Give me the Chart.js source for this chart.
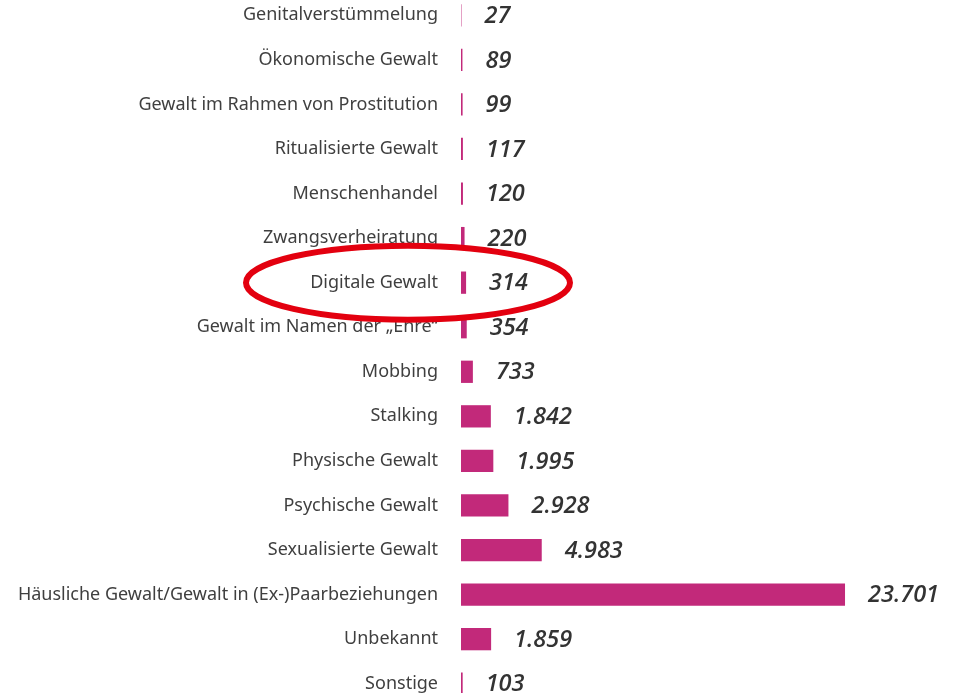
<!DOCTYPE html>
<html lang="de">
<head>
<meta charset="utf-8">
<title>Gewaltformen</title>
<script src="https://cdn.jsdelivr.net/npm/chart.js@4"></script>
<style>
  html, body { margin: 0; padding: 0; background: #fff; overflow: hidden; }
  #chart { position: absolute; left: 0; top: -7px; }
</style>
</head>
<body>
<canvas id="chart" width="956" height="713"></canvas>
<script>
const categories = [
  "Genitalverstümmelung",
  "Ökonomische Gewalt",
  "Gewalt im Rahmen von Prostitution",
  "Ritualisierte Gewalt",
  "Menschenhandel",
  "Zwangsverheiratung",
  "Digitale Gewalt",
  "Gewalt im Namen der „Ehre“",
  "Mobbing",
  "Stalking",
  "Physische Gewalt",
  "Psychische Gewalt",
  "Sexualisierte Gewalt",
  "Häusliche Gewalt/Gewalt in (Ex-)Paarbeziehungen",
  "Unbekannt",
  "Sonstige"
];
const values = [27, 89, 99, 117, 120, 220, 314, 354, 733, 1842, 1995, 2928, 4983, 23701, 1859, 103];
const highlighted = "Digitale Gewalt";

const fmt = new Intl.NumberFormat("de-DE");

// Zahlen rechts neben den Balken
const valueLabels = {
  id: "valueLabels",
  afterDatasetsDraw(chart) {
    const ctx = chart.ctx;
    const meta = chart.getDatasetMeta(0);
    ctx.save();
    ctx.font = "italic 600 23.5px 'Open Sans'";
    ctx.fillStyle = "#333333";
    ctx.textBaseline = "middle";
    ctx.textAlign = "left";
    meta.data.forEach((bar, i) => {
      ctx.fillText(fmt.format(values[i]), bar.x + 23, bar.y + 1);
    });
    ctx.restore();
  }
};

// rote Markierung um "Digitale Gewalt"
const highlight = {
  id: "highlight",
  afterDraw(chart) {
    const idx = categories.indexOf(highlighted);
    const y = chart.scales.y.getPixelForValue(idx);
    const ctx = chart.ctx;
    ctx.save();
    ctx.strokeStyle = "#e3000f";
    ctx.lineWidth = 6;
    ctx.beginPath();
    ctx.ellipse(408, y, 162, 37, 0, 0, Math.PI * 2);
    ctx.stroke();
    ctx.restore();
  }
};

new Chart(document.getElementById("chart"), {
  type: "bar",
  data: {
    labels: categories,
    datasets: [{
      data: values,
      backgroundColor: "#c2297a",
      borderWidth: 0,
      categoryPercentage: 1,
      barPercentage: 0.5
    }]
  },
  options: {
    indexAxis: "y",
    responsive: false,
    animation: false,
    layout: { padding: 0 },
    plugins: {
      legend: { display: false },
      tooltip: { enabled: false }
    },
    scales: {
      x: {
        display: false,
        min: 0,
        max: 30550
      },
      y: {
        grid: { display: false },
        border: { display: false },
        ticks: {
          padding: 15,
          color: "#3f3f3f",
          font: { family: "'Noto Sans'", size: 18 }
        },
        afterFit(scale) {
          scale.width = 461;
          // Reihen sollen die ganze Höhe nutzen
          scale.paddingTop = 0;
          scale.paddingBottom = 0;
        }
      }
    }
  },
  plugins: [valueLabels, highlight]
});
</script>
</body>
</html>
